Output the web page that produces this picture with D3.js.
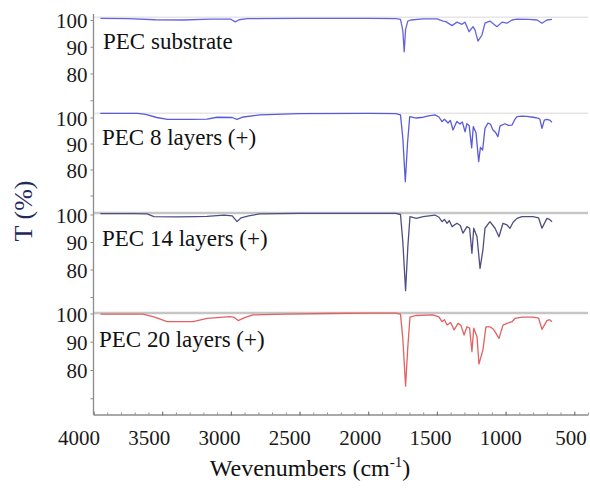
<!DOCTYPE html>
<html><head><meta charset="utf-8">
<script src="https://cdn.jsdelivr.net/npm/d3@7"></script>
<style>
html,body{margin:0;padding:0;background:#fff;}
svg{display:block;}
svg text{font-family:"Liberation Serif","DejaVu Serif","Noto Serif","Times New Roman",serif;}
</style></head><body>
<svg id="chart" width="590" height="493"></svg>
<script>
// ---------- DATA ----------
const seriesNames = ["PEC substrate", "PEC 8 layers (+)", "PEC 14 layers (+)", "PEC 20 layers (+)"];
const xTickValues = [4000, 3500, 3000, 2500, 2000, 1500, 1000, 500];
const yTickLabels = [100, 90, 80];
const yTickMarks = [100, 90, 80, 70];

// [wavenumber cm-1, transmittance %]
const pecSubstrate = [[3950,100.6],[3750,100.5],[3550,100.1],[3350,100.0],[3150,100.3],[3000,100.3],[2968,99.3],[2940,100.1],[2880,100.5],[2500,100.6],[2000,100.6],[1800,100.5],[1765,100.2],[1748,96],[1738,88.1],[1728,96.5],[1712,99.6],[1690,100],[1600,100.4],[1500,100.4],[1455,99.6],[1435,99.4],[1390,97.9],[1354,99.2],[1317,98.4],[1295,99.2],[1266,95.6],[1237,97.5],[1223,96.3],[1201,92.1],[1172,94.4],[1150,98.8],[1114,99.6],[1063,97.5],[1026,99.2],[990,98.8],[953,100],[917,100.3],[830,100.2],[770,100],[735,98.8],[699,100],[662,100.2]];

const pec8 = [[3950,101.6],[3680,101.6],[3620,101.2],[3540,100.0],[3460,99.3],[3300,99.3],[3173,99.4],[3100,100.1],[2990,100.0],[2955,99.3],[2910,100.2],[2787,101],[2500,101.5],[2000,101.6],[1800,101.5],[1765,101],[1748,92],[1730,75.3],[1714,90],[1698,100.3],[1650,99.8],[1600,100.1],[1560,100.6],[1515,101],[1485,100.2],[1463,98.4],[1445,99.3],[1419,97.9],[1402,98.9],[1383,95.2],[1355,98.5],[1332,97.5],[1315,98.3],[1295,94.5],[1282,97.6],[1265,96.9],[1247,88.3],[1235,96.5],[1215,94],[1196,83],[1183,88.5],[1167,87.5],[1150,95.8],[1128,97.9],[1110,97.4],[1092,95.2],[1072,94.2],[1056,92.6],[1040,96.8],[1004,97.6],[980,97.0],[953,97.1],[932,99.3],[917,100.3],[880,100.5],[845,100.4],[800,100.1],[765,99.8],[750,99.3],[735,95.8],[718,99],[699,99.3],[680,99],[662,98.2]];

const pec14 = [[3950,100.3],[3700,100.3],[3610,100.2],[3560,99.2],[3400,99.1],[3250,99.2],[3173,99.3],[3050,99.8],[2990,99.5],[2955,97.4],[2925,98.8],[2870,99.5],[2790,100.2],[2500,100.4],[2000,100.4],[1800,100.4],[1765,100],[1748,90],[1728,72.3],[1712,88],[1696,99.2],[1650,98.6],[1600,99.2],[1514,99.8],[1485,99],[1463,97.4],[1445,98.2],[1426,96.8],[1410,97.8],[1390,95.6],[1354,96.8],[1330,96],[1310,93.2],[1281,95.6],[1262,95],[1245,85.9],[1232,95],[1208,91.9],[1186,80.4],[1165,87.1],[1150,95],[1114,97.4],[1092,96],[1077,95],[1048,91.9],[1019,96.8],[990,96.2],[968,95],[945,97.2],[917,98.6],[880,99.2],[800,99.2],[760,98.8],[735,95],[699,98.6],[680,98.2],[662,97.4]];

const pec20 = [[3950,99.8],[3640,99.8],[3560,98.8],[3464,97.1],[3275,97.1],[3173,98.3],[3005,98.9],[2975,98.6],[2947,97.5],[2896,98.6],[2840,99.5],[2600,99.8],[2300,100.0],[2000,100.1],[1800,100.1],[1765,99.8],[1748,91],[1728,74.3],[1712,88],[1696,98.7],[1650,99.3],[1530,99.5],[1485,98.8],[1463,97.1],[1445,97.8],[1426,95.9],[1400,96.8],[1375,94.2],[1346,96.5],[1325,95.8],[1302,92.4],[1281,95.3],[1262,94.8],[1245,86.5],[1232,94.8],[1208,91.8],[1194,82.1],[1165,87.1],[1143,95.3],[1114,95.3],[1090,94.5],[1077,93.6],[1048,91.2],[1019,95.9],[990,96.5],[953,97.1],[931,98.3],[880,98.7],[800,98.7],[760,98.4],[735,94.4],[699,97.5],[680,97.8],[662,97.1]];

const seriesData = [pecSubstrate, pec8, pec14, pec20];

// ---------- LAYOUT ----------
const FONT = "'Liberation Serif','DejaVu Serif','Noto Serif','Times New Roman',serif";
const svg = d3.select("#chart");
const axisColor = "#8c8c8c";
const x = d3.scaleLinear().domain([4000, 400]).range([93.5, 588]);
const xLabelScale = d3.scaleLinear().domain([4000, 500]).range([79, 571]);

const panelY100 = [20, 117.5, 214.5, 313.5];
const panelY80 = [73.5, 169.5, 269.5, 370];
const frameY = [17.3, 113.3, 213, 313];
const frameStyle = [["#e6e6e6", 1.5], ["#e6e6e6", 1.5], ["#c6c6c6", 2.5], ["#c6c6c6", 2.5]];
const colors = ["#6464e0", "#5a5ada", "#4e4e82", "#e06262"];
const legendPos = [[103, 48.5], [102, 144.5], [102, 245.5], [99, 346.5]];

const yScales = panelY100.map((y0, i) => d3.scaleLinear().domain([100, 80]).range([y0, panelY80[i]]));

// frame lines
frameY.forEach((fy, i) => {
  svg.append("line").attr("x1", 94).attr("x2", 588).attr("y1", fy).attr("y2", fy)
    .attr("stroke", frameStyle[i][0]).attr("stroke-width", frameStyle[i][1]);
});

// left axis line
svg.append("line").attr("x1", 93.5).attr("x2", 93.5).attr("y1", 14).attr("y2", 414.5)
  .attr("stroke", axisColor).attr("stroke-width", 1.3);

// y axes per panel
yScales.forEach((ys, i) => {
  const gTicks = svg.append("g").attr("transform", "translate(93.5,0)")
    .call(d3.axisLeft(ys).tickValues(yTickMarks).tickSize(3).tickFormat(""));
  gTicks.select(".domain").remove();
  gTicks.selectAll("line").attr("stroke", axisColor);
  const g = svg.append("g").attr("transform", "translate(93.5,0)")
    .call(d3.axisLeft(ys).tickValues(yTickLabels).tickSize(0).tickPadding(6).tickFormat(d3.format("d")));
  g.attr("font-family", FONT);
  g.select(".domain").remove();
  g.selectAll("text").attr("font-size", 21).attr("fill", "#1a1a1a")
    .attr("font-family", FONT).attr("dy", "0.36em");
});

// bottom axis
const gxMinor = svg.append("g").attr("transform", "translate(0,414.5)")
  .call(d3.axisBottom(x).tickValues(d3.range(4000, 399, -100)).tickSize(-2).tickSizeOuter(0).tickFormat(""));
gxMinor.select(".domain").attr("stroke", axisColor).attr("stroke-width", 1.3);
gxMinor.selectAll(".tick line").attr("stroke", axisColor);
const gxMajor = svg.append("g").attr("transform", "translate(0,415.5)")
  .call(d3.axisBottom(x).tickValues(xTickValues).tickSize(-4).tickSizeOuter(0).tickFormat(""));
gxMajor.select(".domain").remove();
gxMajor.selectAll(".tick line").attr("stroke", "#777");

// x tick labels
svg.append("g").selectAll("text").data(xTickValues).join("text")
  .attr("x", d => xLabelScale(d)).attr("y", 445)
  .attr("text-anchor", "middle").attr("font-size", 21).attr("fill", "#1a1a1a")
  .attr("font-family", FONT)
  .text(d => d);

// spectra
const line = d3.line().x(d => x(d[0]));
seriesData.forEach((data, i) => {
  svg.append("path").datum(data)
    .attr("d", line.y(d => yScales[i](d[1])))
    .attr("fill", "none").attr("stroke", colors[i]).attr("stroke-width", 1.3)
    .attr("stroke-linejoin", "round");
});

// legends
seriesNames.forEach((name, i) => {
  svg.append("text").attr("x", legendPos[i][0]).attr("y", legendPos[i][1])
    .attr("font-size", 23).attr("fill", "#111").attr("font-family", FONT).text(name);
});

// axis titles
svg.append("text").attr("transform", "translate(32,211) rotate(-90)")
  .attr("text-anchor", "middle").attr("font-size", 26).attr("fill", "#1f2a5c")
  .attr("font-family", FONT).text("T (%)");

const xt = svg.append("text").attr("x", 310).attr("y", 476)
  .attr("text-anchor", "middle").attr("font-size", 24).attr("fill", "#111")
  .attr("font-family", FONT);
xt.append("tspan").text("Wevenumbers (cm");
xt.append("tspan").attr("font-size", 15).attr("dy", -9).text("-1");
xt.append("tspan").attr("dy", 9).text(")");
</script>
</body></html>
